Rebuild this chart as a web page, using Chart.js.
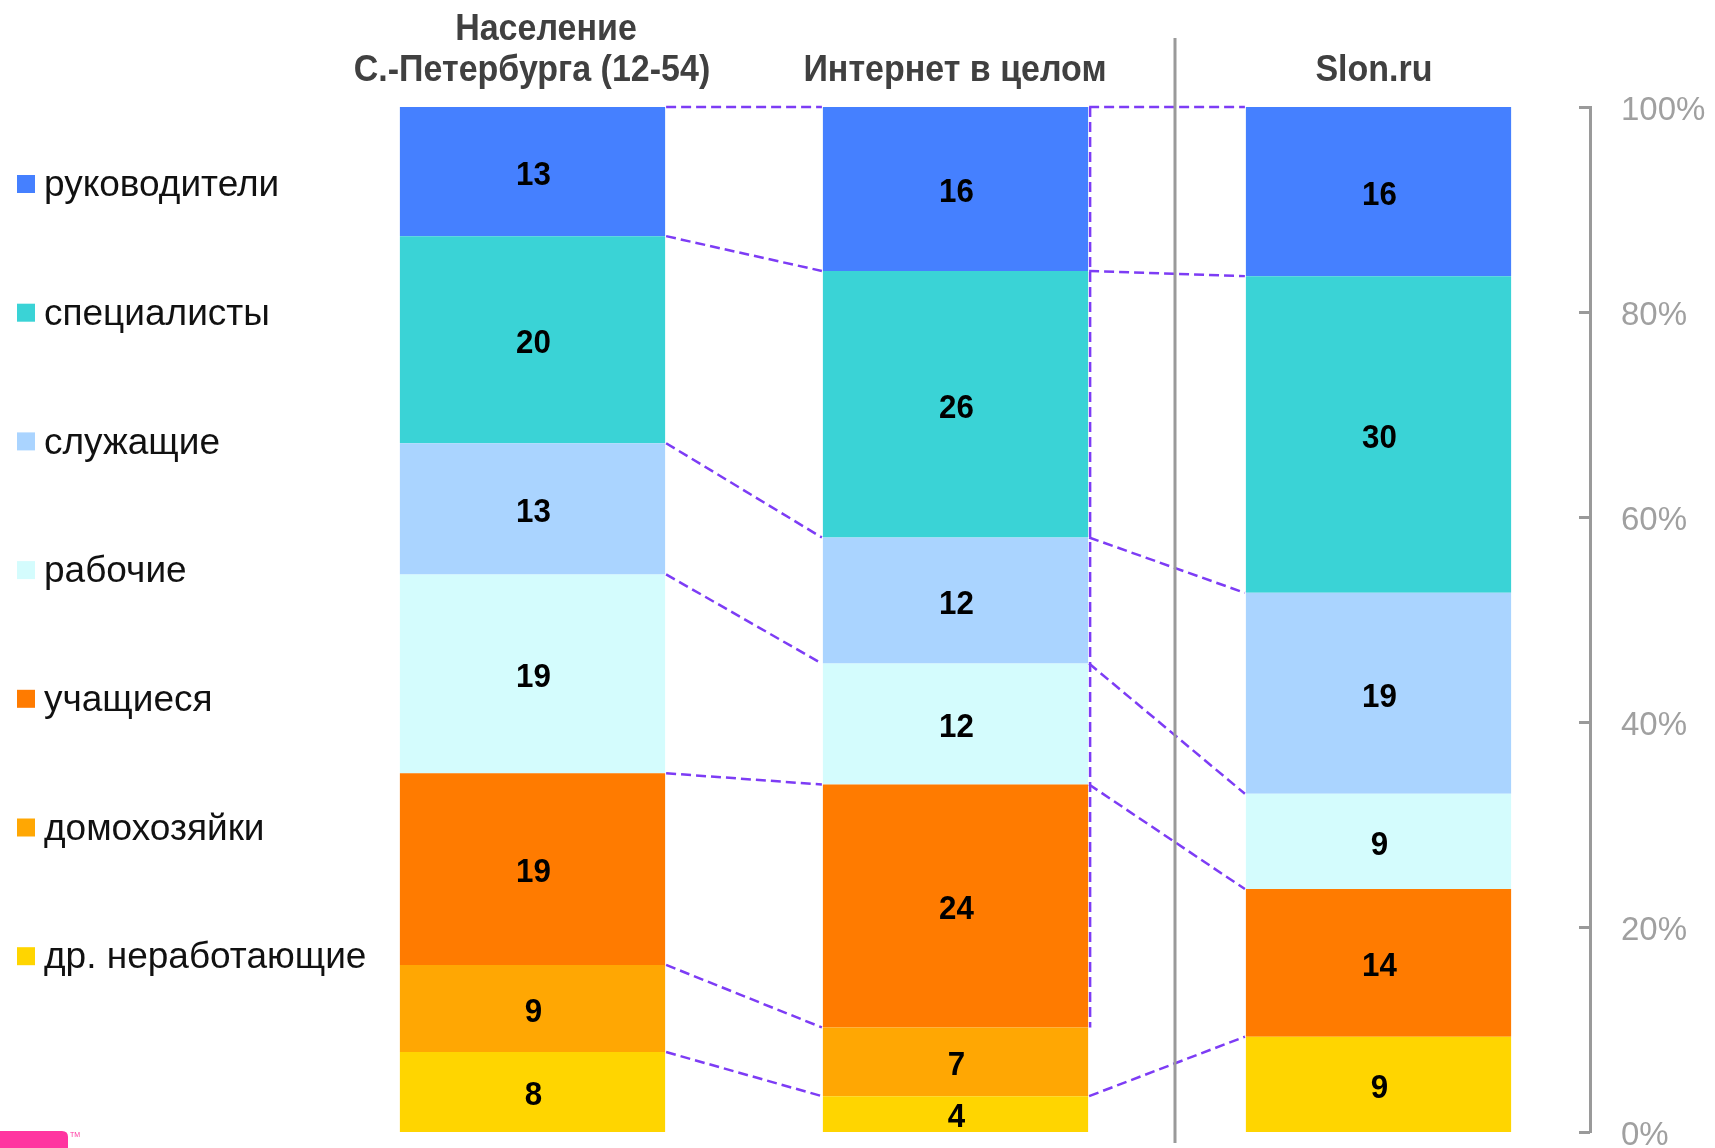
<!DOCTYPE html>
<html>
<head>
<meta charset="utf-8">
<script src="https://cdn.jsdelivr.net/npm/chart.js@4.4.1/dist/chart.umd.min.js"></script>
<style>
    html, body { margin: 0; padding: 0; background: #ffffff; }
    #wrap { width: 1715px; height: 1148px; }
</style>
</head>
<body>
<div id="wrap"><canvas id="occChart" width="1715" height="1148"></canvas></div>
<script>
/* ============================================================
   Состав аудитории по роду занятий — 100% stacked columns
   ============================================================ */

// ── Data ───────────────────────────────────────────────
var columnTitles = [
    ['Население', 'С.-Петербурга (12-54)'],
    ['Интернет в целом'],
    ['Slon.ru']
];
var groups = ['руководители', 'специалисты', 'служащие', 'рабочие',
              'учащиеся', 'домохозяйки', 'др. неработающие'];
var groupColors = ['#4580FF', '#3AD3D6', '#AAD4FF', '#D4FCFD',
                   '#FF7B00', '#FFA703', '#FFD500'];

// shown numbers, top → bottom, same order as groups (null = no segment)
var valuesSpb  = [13, 20, 13, 19, 19, 9, 8];
var valuesNet  = [16, 26, 12, 12, 24, 7, 4];
var valuesSlon = [16, 30, 19, 9, 14, null, 9];

// segment heights in % of column (unrounded shares)
var sharesSpb  = [12.6, 20.2, 12.8, 19.4, 18.7, 8.5, 7.8];
var sharesNet  = [16.0, 26.0, 12.3, 11.8, 23.7, 6.7, 3.5];
var sharesSlon = [16.5, 30.9, 19.6, 9.3, 14.4, null, 9.3];

var yTicks = [0, 20, 40, 60, 80, 100];

// ── Shared styles ──────────────────────────────────────
var FONT = "'Liberation Sans', Arial, sans-serif";
var lineColor = '#7D3CF5';
var axisGrey = '#9a9a9a';

var columnValues = [valuesSpb, valuesNet, valuesSlon];

function toPercent(arr) {
    var sum = arr.reduce(function (a, b) { return a + (b || 0); }, 0);
    return arr.map(function (v) { return v == null ? null : v / sum * 100; });
}
var columnShares = [sharesSpb, sharesNet, sharesSlon].map(toPercent);

// bottom series first so that "руководители" ends up on top
var datasets = [];
for (var g = groups.length - 1; g >= 0; g--) {
    datasets.push({
        label: groups[g],
        groupIndex: g,
        data: columnShares.map(function (s) { return s[g]; }),
        backgroundColor: groupColors[g],
        borderWidth: 0,
        barPercentage: 0.627,
        categoryPercentage: 1
    });
}

function drawText(ctx, text, x, y, sx, sy) {
    ctx.save();
    ctx.translate(x, y);
    ctx.scale(sx, sy);
    ctx.fillText(text, 0, 0);
    ctx.restore();
}

// ── Series lines between columns ───────────────────────
var seriesLines = {
    id: 'seriesLines',
    afterDatasetsDraw: function (chart) {
        var ctx = chart.ctx;
        ctx.save();
        ctx.strokeStyle = lineColor;
        ctx.lineWidth = 2.5;
        ctx.setLineDash([10, 5]);
        chart.data.datasets.forEach(function (ds, di) {
            var els = chart.getDatasetMeta(di).data;
            for (var j = 0; j < els.length - 1; j++) {
                if (ds.data[j] == null) continue;
                var a = els[j];
                if (ds.data[j + 1] == null) {
                    // series missing in next column: guide along the column edge
                    var topEl = chart.getDatasetMeta(chart.data.datasets.length - 1).data[j];
                    ctx.beginPath();
                    ctx.moveTo(a.x + a.width / 2 + 2, topEl.y);
                    ctx.lineTo(a.x + a.width / 2 + 2, a.y);
                    ctx.stroke();
                    continue;
                }
                var b = els[j + 1];
                ctx.beginPath();
                ctx.moveTo(a.x + a.width / 2 + 1, a.y);
                ctx.lineTo(b.x - b.width / 2 - 1, b.y);
                ctx.stroke();
            }
        });
        ctx.restore();
    }
};

// ── Numbers inside segments ────────────────────────────
var segmentLabels = {
    id: 'segmentLabels',
    afterDatasetsDraw: function (chart) {
        var ctx = chart.ctx;
        ctx.save();
        ctx.fillStyle = '#000';
        ctx.font = 'bold 34px ' + FONT;
        ctx.textAlign = 'center';
        ctx.textBaseline = 'middle';
        chart.data.datasets.forEach(function (ds, di) {
            chart.getDatasetMeta(di).data.forEach(function (el, j) {
                var v = columnValues[j][ds.groupIndex];
                if (v == null) return;
                drawText(ctx, String(v), el.x + 1, (el.y + el.base) / 2 + 4, 0.92, 1);
            });
        });
        ctx.restore();
    }
};

// ── Titles, legend, separator, inward ticks, logo ──────
var decor = {
    id: 'decor',
    afterDraw: function (chart) {
        var ctx = chart.ctx;
        var area = chart.chartArea;
        var yScale = chart.scales.y;
        ctx.save();

        // column titles
        ctx.fillStyle = '#404040';
        ctx.font = 'bold 34px ' + FONT;
        ctx.textAlign = 'center';
        ctx.textBaseline = 'middle';
        drawText(ctx, columnTitles[0][0], 546, 30, 1, 1.1);
        drawText(ctx, columnTitles[0][1], 532, 71, 1, 1.1);
        drawText(ctx, columnTitles[1][0], 955, 71, 1, 1.1);
        drawText(ctx, columnTitles[2][0], 1374, 71, 1, 1.1);

        // grey separator before Slon.ru
        ctx.strokeStyle = axisGrey;
        ctx.lineWidth = 3;
        ctx.beginPath();
        ctx.moveTo(1175, 38);
        ctx.lineTo(1175, 1143);
        ctx.stroke();

        // tick marks pointing into the plot
        yTicks.forEach(function (t) {
            var y = Math.round(yScale.getPixelForValue(t)) + 0.5;
            ctx.beginPath();
            ctx.moveTo(area.right - 11, y);
            ctx.lineTo(area.right, y);
            ctx.stroke();
        });

        // legend
        ctx.font = '37px ' + FONT;
        ctx.textAlign = 'left';
        ctx.textBaseline = 'middle';
        groups.forEach(function (name, i) {
            var cy = 185 + i * 128.7;
            ctx.fillStyle = groupColors[i];
            ctx.fillRect(17, cy - 10, 18, 18);
            ctx.fillStyle = '#111';
            ctx.fillText(name, 44, cy + 1);
        });

        // logo fragment at the bottom-left corner
        ctx.fillStyle = '#FF35A0';
        ctx.beginPath();
        ctx.moveTo(0, 1131);
        ctx.lineTo(62, 1131);
        ctx.quadraticCurveTo(68, 1131, 68, 1137);
        ctx.lineTo(68, 1148);
        ctx.lineTo(0, 1148);
        ctx.closePath();
        ctx.fill();
        ctx.font = '7px ' + FONT;
        ctx.fillText('TM', 70, 1135);

        ctx.restore();
    }
};

// ── Chart ──────────────────────────────────────────────
new Chart(document.getElementById('occChart'), {
    type: 'bar',
    data: {
        labels: columnTitles.map(function (t) { return t.join(' '); }),
        datasets: datasets
    },
    options: {
        responsive: false,
        animation: false,
        layout: { padding: { left: 321, top: 107, bottom: 16, right: 0 } },
        plugins: {
            legend: { display: false },
            tooltip: { enabled: false }
        },
        scales: {
            x: { display: false, stacked: true },
            y: {
                position: 'right',
                stacked: true,
                min: 0,
                max: 100,
                grid: { display: false, drawTicks: false },
                border: { display: true, color: axisGrey, width: 3 },
                afterBuildTicks: function (s) {
                    s.ticks = yTicks.map(function (v) { return { value: v }; });
                },
                afterFit: function (s) {
                    s.width = 125;
                    s.paddingTop = 0;
                    s.paddingBottom = 0;
                },
                ticks: {
                    padding: 31,
                    labelOffset: 4,
                    color: '#a0a0a0',
                    font: { family: FONT, size: 33 },
                    callback: function (v) { return v + '%'; }
                }
            }
        }
    },
    plugins: [seriesLines, segmentLabels, decor]
});
</script>
</body>
</html>
